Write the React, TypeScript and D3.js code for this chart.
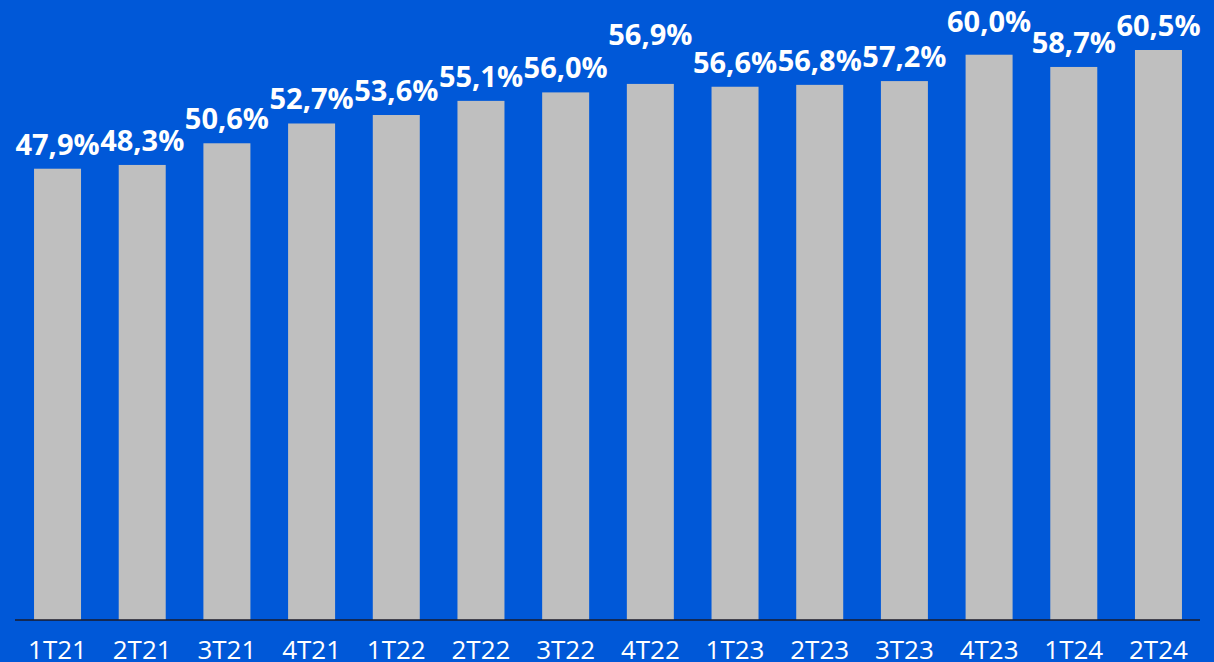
import React from "react";
import * as d3 from "d3";

// quarters and share values (%)
const quarters = [
  "1T21", "2T21", "3T21", "4T21", "1T22", "2T22", "3T22",
  "4T22", "1T23", "2T23", "3T23", "4T23", "1T24", "2T24",
];
const shares = [47.9, 48.3, 50.6, 52.7, 53.6, 55.1, 56.0, 56.9, 56.6, 56.8, 57.2, 60.0, 58.7, 60.5];

const width = 1214;
const height = 662;
const baseY = 620;

// labels that were nudged up by hand in the original to avoid overlaps
const raised: Record<string, number> = { "4T22": 25, "4T23": 9 };

const fmt = (v: number) => v.toFixed(1).replace(".", ",") + "%";

const App = () => {
  const x = d3.scaleBand<string>().domain(quarters).range([15.4, 1200.6]).paddingInner(0.445).paddingOuter(0.22);
  const y = d3.scaleLinear().domain([0, 60.5]).range([baseY, 50]);

  return (
    <svg
      width={width}
      height={height}
      style={{ position: "fixed", top: 0, left: 0, display: "block" }}
      fontFamily="'Open Sans', sans-serif"
    >
      <rect width={width} height={height} fill="#0058D8" />
      {quarters.map((q, i) => (
        <g key={q}>
          <rect
            x={x(q)}
            y={y(shares[i])}
            width={x.bandwidth()}
            height={baseY - y(shares[i])}
            fill="#BFBFBF"
          />
          <text
            x={(x(q) ?? 0) + x.bandwidth() / 2}
            y={y(shares[i]) - 14 - (raised[q] ?? 0)}
            textAnchor="middle"
            fill="#fff"
            fontWeight={700}
            fontSize={29}
          >
            {fmt(shares[i])}
          </text>
          <text
            x={(x(q) ?? 0) + x.bandwidth() / 2}
            y={659}
            textAnchor="middle"
            fill="#fff"
            fontSize={26}
          >
            {q}
          </text>
        </g>
      ))}
      <line x1={15} x2={1200} y1={baseY} y2={baseY} stroke="#1a1a2a" strokeWidth={1.5} />
    </svg>
  );
};

export default App;
